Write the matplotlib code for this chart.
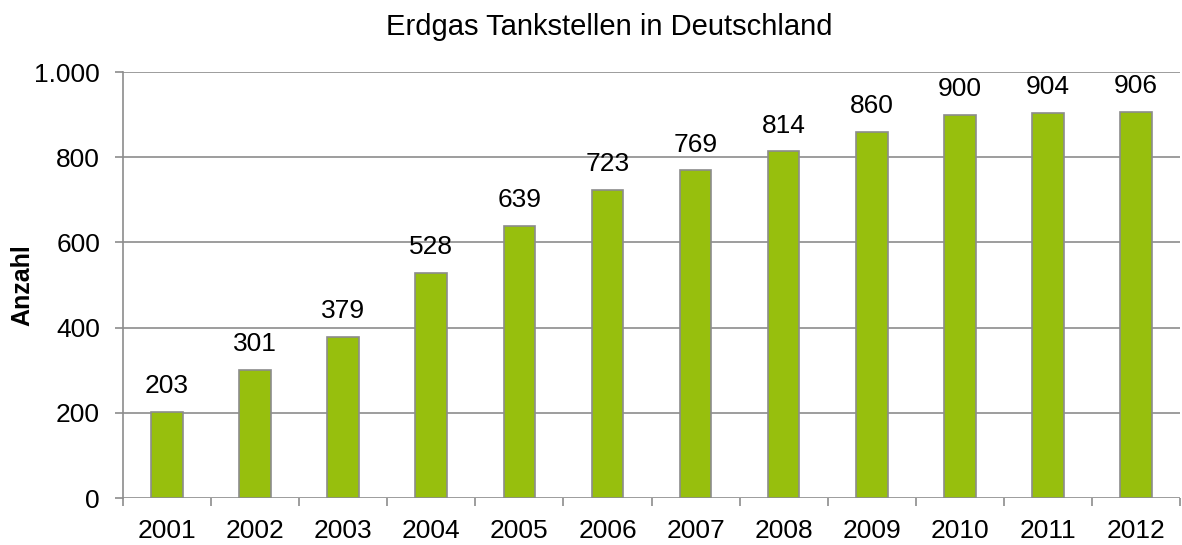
import matplotlib.pyplot as plt
import numpy as np

plt.rcParams['font.family'] = ['Liberation Sans', 'DejaVu Sans']

years = ['2001', '2002', '2003', '2004', '2005', '2006',
         '2007', '2008', '2009', '2010', '2011', '2012']
stations = [203, 301, 379, 528, 639, 723, 769, 814, 860, 900, 904, 906]

grey = '#8c8c8c'
green = '#97bf0d'

fig = plt.figure(figsize=(11.82, 5.45), dpi=100)
ax = fig.add_axes([123 / 1182, 47 / 545, 1057 / 1182, 426 / 545])

x = np.arange(len(years))
ax.bar(x, stations, width=0.36, color=green, edgecolor=grey, linewidth=1.2, zorder=3)

for xi, v in zip(x, stations):
    ax.text(xi, v + 32, str(v), ha='center', va='bottom', fontsize=19)

ax.set_xlim(-0.5, len(years) - 0.5)
ax.set_ylim(0, 1000)

# tick marks between categories, labels in the middle
ax.set_xticks(np.arange(-0.5, len(years), 1.0))
ax.set_xticklabels([])
ax.set_xticks(x, minor=True)
ax.set_xticklabels(years, minor=True, fontsize=19)
ax.tick_params(axis='x', which='major', length=6, color=grey, width=1.2, direction='out')
ax.tick_params(axis='x', which='minor', length=0, pad=15)

yt = np.arange(0, 1001, 200)
ax.set_yticks(yt)
ax.set_yticklabels([f'{v:,}'.replace(',', '.') for v in yt], fontsize=19)
ax.tick_params(axis='y', length=6, color=grey, width=1.2, pad=10.5)

ax.grid(axis='y', color=grey, linewidth=1.2, zorder=0)
ax.set_axisbelow(True)

for s in ['top', 'right', 'bottom']:
    ax.spines[s].set_visible(False)
ax.spines['left'].set_color(grey)
ax.spines['left'].set_linewidth(1.2)

ax.set_ylabel('Anzahl', fontsize=18, fontweight='bold')
ax.yaxis.set_label_coords(-0.084, 0.5)
fig.text(609.5 / 1182, 1 - 27 / 545, 'Erdgas Tankstellen in Deutschland',
         ha='center', va='center', fontsize=21)

fig.savefig('out.png', dpi=100)
